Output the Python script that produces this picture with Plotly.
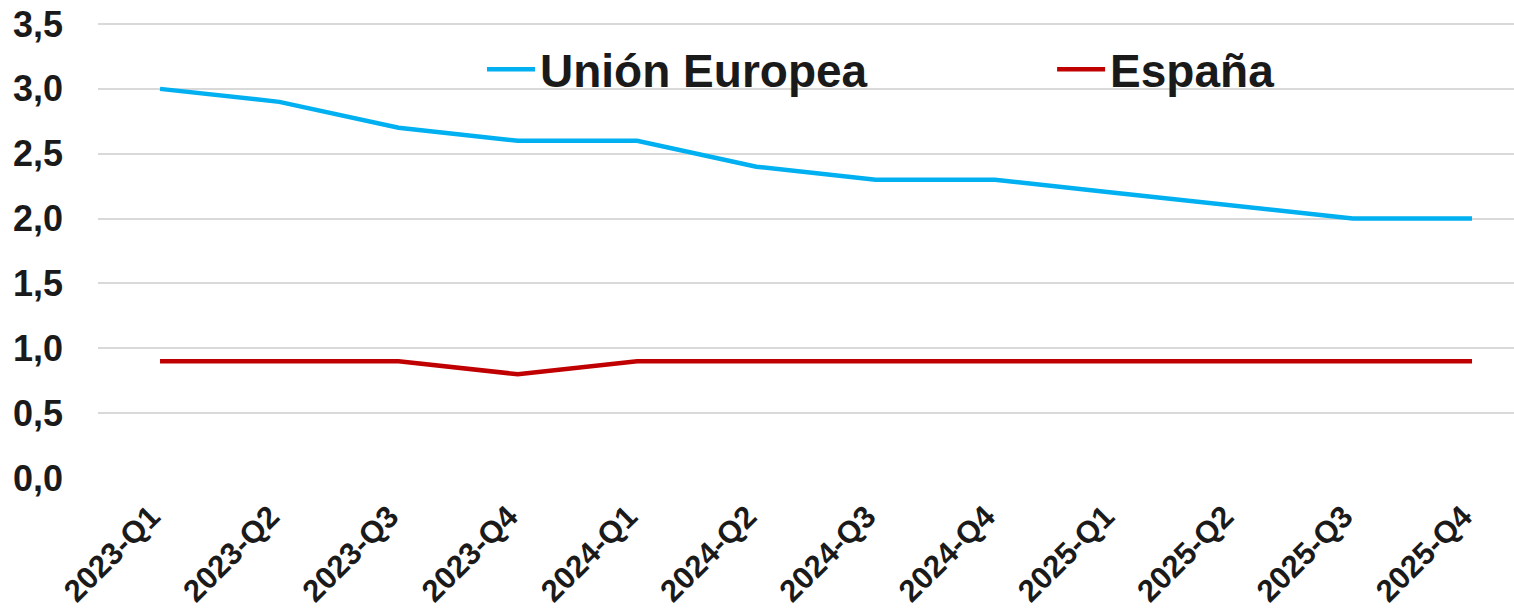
import plotly.graph_objects as go

categories = ["2023-Q1", "2023-Q2", "2023-Q3", "2023-Q4",
              "2024-Q1", "2024-Q2", "2024-Q3", "2024-Q4",
              "2025-Q1", "2025-Q2", "2025-Q3", "2025-Q4"]
ue_values = [3.0, 2.9, 2.7, 2.6, 2.6, 2.4, 2.3, 2.3, 2.2, 2.1, 2.0, 2.0]
es_values = [0.9, 0.9, 0.9, 0.8, 0.9, 0.9, 0.9, 0.9, 0.9, 0.9, 0.9, 0.9]
y_ticks = [0.0, 0.5, 1.0, 1.5, 2.0, 2.5, 3.0, 3.5]
y_labels = ["0,0", "0,5", "1,0", "1,5", "2,0", "2,5", "3,0", "3,5"]

FONT = "Liberation Sans, Arial, sans-serif"
TXT = "#1a1a1a"

fig = go.Figure()
fig.add_trace(go.Scatter(x=list(range(len(categories))), y=ue_values, mode="lines",
                         name="Unión Europea", legend="legend",
                         line=dict(color="#00B0F0", width=4.5)))
fig.add_trace(go.Scatter(x=list(range(len(categories))), y=es_values, mode="lines",
                         name="España", legend="legend2",
                         line=dict(color="#C00000", width=4.5)))

leg_common = dict(orientation="h", yanchor="middle", xanchor="left",
                  font=dict(size=46, family=FONT, color=TXT, weight="bold"),
                  itemwidth=48, bgcolor="rgba(0,0,0,0)", borderwidth=0)

fig.update_layout(
    width=1514, height=612,
    margin=dict(l=98, r=0, t=20, b=134, autoexpand=False),
    paper_bgcolor="white", plot_bgcolor="white",
    font=dict(family=FONT, color=TXT, weight="bold"),
    showlegend=True,
    legend=dict(x=0.2712, y=0.892, **leg_common),
    legend2=dict(x=0.6738, y=0.892, **leg_common),
    xaxis=dict(range=[-0.52, 11.352], tickmode="array",
               tickvals=list(range(len(categories))), ticktext=categories,
               tickangle=-45, showgrid=False, zeroline=False, showline=False,
               ticks="", automargin=False, ticklabelstandoff=13, ticklabelshift=-9,
               tickfont=dict(size=31, family=FONT, color=TXT, weight="bold")),
    yaxis=dict(range=[0, 3.531], tickmode="array", tickvals=y_ticks, ticktext=y_labels,
               showgrid=True, gridcolor="#D9D9D9", gridwidth=2, zeroline=False,
               showline=False, ticks="", ticklabelstandoff=34, automargin=False,
               tickfont=dict(size=36, family=FONT, color=TXT, weight="bold")),
)

# remove the browser's default 8px body margin so the figure fills the window
fig.write_html("out.html", config={"displayModeBar": False},
               post_script="document.body.style.margin='0px';")
